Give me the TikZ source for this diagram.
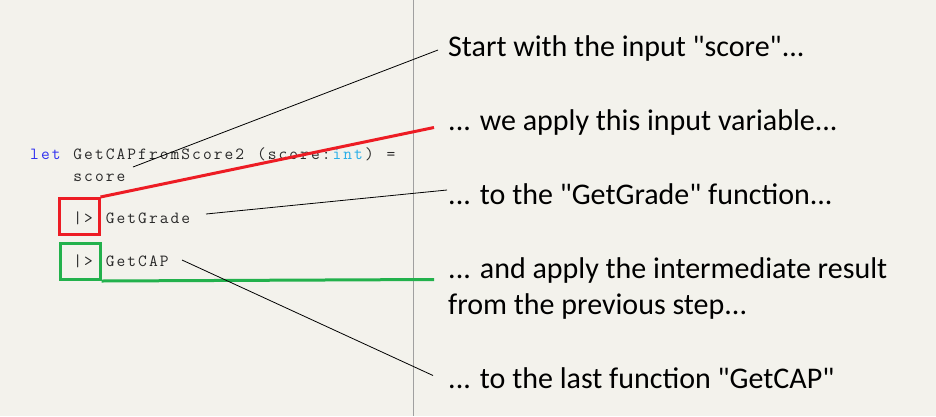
\documentclass[tikz,border=0pt]{standalone}
\usepackage{fontspec}
\setmainfont{Carlito}
\definecolor{bg}{RGB}{243,242,236}
\definecolor{kw}{RGB}{48,48,240}
\definecolor{ty}{RGB}{40,174,232}
\definecolor{codec}{RGB}{40,40,40}
\definecolor{pred}{RGB}{237,28,36}
\definecolor{pgreen}{RGB}{34,177,76}
\definecolor{sep}{RGB}{160,160,160}
\newcommand\mono[1]{\monoloop#1\relax}
\def\monoloop#1{\ifx#1\relax\else\makebox[10.8pt][c]{#1}\expandafter\monoloop\fi}
\tikzset{
  code/.style={inner sep=0pt, anchor=base west, text=codec,
    font=\fontsize{17pt}{18pt}\ttfamily},
  note/.style={inner sep=0pt, anchor=base west, text=black,
    font=\fontsize{30pt}{34pt}\selectfont},
  hbox/.style={draw, line width=3pt, inner sep=0pt, minimum width=40pt, minimum height=36pt},
  thin/.style={draw=black, line width=0.8pt},
}
\begin{document}
\begin{tikzpicture}[x=1pt,y=-1pt]
\fill[bg] (0,0) rectangle (936,416);
\useasboundingbox (0,0) rectangle (936,416);
\draw[sep, line width=1pt] (413,0) -- (413,416);
% code (one cell = 10.8)
\node[code, text=kw] (let) at (29,159) {\mono{let}};
\node[code] (fn) at (72.2,159) {\mono{GetCAPfromScore2}};
\node[code] (arg) at (255.8,159) {\mono{(score:}};
\node[code, text=ty] (int) at (331.4,159) {\mono{int}};
\node[code] (cp) at (363.8,159) {\mono{)}};
\node[code] (eq) at (385.4,159) {\mono{=}};
\node[code] (sc) at (72.2,181) {\mono{score}};
\node[code] (p1) at (72.2,223.5) {\mono{|>}};
\node[code] (gg) at (104.6,223.5) {\mono{GetGrade}};
\node[code] (p2) at (72.2,266) {\mono{|>}};
\node[code] (gc) at (104.6,266) {\mono{GetCAP}};
% boxes
\node[hbox, draw=pred] (rb) at (79,216.5) {};
\node[hbox, draw=pgreen] (gb) at (80,261.5) {};
% notes
\node[note] (t1) at (448,56) {Start with the input \textquotedbl score\textquotedbl...};
\node[note] (t2) at (448,130) {... we apply this input variable...};
\node[note] (t3) at (448,204) {... to the \textquotedbl GetGrade\textquotedbl{} function...};
\node[note] (t4) at (448,278.5) {... and apply the intermediate result};
\node[note] (t5) at (448,314) {from the previous step...};
\node[note] (t6) at (448,388) {... to the last function \textquotedbl GetCAP\textquotedbl};
% connector ends
\coordinate (a1) at (133,167);
\coordinate (b1) at (438,50);
\coordinate (b2) at (434,127.5);
\coordinate (a3) at (206,214);
\coordinate (b3) at (447,190);
\coordinate (b4) at (434,279.5);
\coordinate (a6) at (182,260);
\coordinate (b6) at (433,375.5);
\draw[thin] (a1) -- (b1);
\draw[pred, line width=3pt] (rb.north east) -- (b2);
\draw[thin] (a3) -- (b3);
\draw[pgreen, line width=3pt] (gb.south east) -- (b4);
\draw[thin] (a6) -- (b6);
\end{tikzpicture}
\end{document}
